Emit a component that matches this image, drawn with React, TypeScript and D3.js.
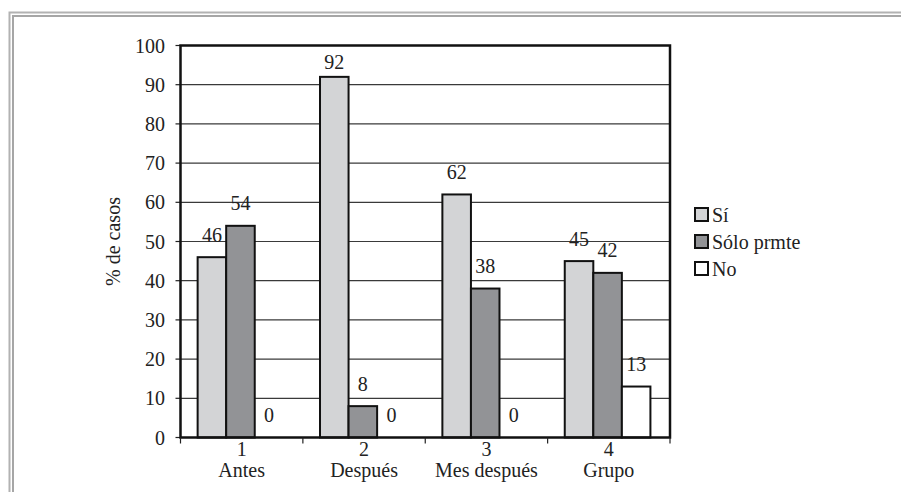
import React from "react";
import * as d3 from "d3";

// Survey responses by moment, percentage of cases
const categories = ["1", "2", "3", "4"];
const categoryNames = ["Antes", "Después", "Mes después", "Grupo"];
const seriesNames = ["Sí", "Sólo prmte", "No"];
const siValues = [46, 92, 62, 45];
const soloValues = [54, 8, 38, 42];
const noValues = [0, 0, 0, 13];
const yTicks = [0, 10, 20, 30, 40, 50, 60, 70, 80, 90, 100];

const seriesValues = [siValues, soloValues, noValues];
const seriesColors = ["#d3d4d6", "#929396", "#ffffff"];

const W = 901;
const H = 492;
const plot = { left: 180.5, right: 670, top: 45.5, bottom: 437.5 };
const FONT = '"Liberation Serif"';
const FS = 20;

const textStyle: React.CSSProperties = { fontFamily: FONT, fontSize: FS };

export default function App() {
  const x = d3
    .scaleBand<string>()
    .domain(categories)
    .range([plot.left, plot.right])
    .padding(0);
  const bw = x.bandwidth();
  const inner = d3
    .scaleBand<string>()
    .domain(seriesNames)
    .range([bw * 0.14, bw * 0.84])
    .padding(0);
  const y = d3.scaleLinear().domain([0, 100]).range([plot.bottom, plot.top]);

  const bars = categories.flatMap((c, ci) =>
    seriesNames.map((s, si) => ({
      c,
      s,
      si,
      v: seriesValues[si][ci],
    }))
  );

  const legendRows = seriesNames.map((s, i) => ({
    s,
    color: seriesColors[i],
    cy: (plot.top + plot.bottom) / 2 + (i - 1) * 27,
  }));

  const boundaries = [...categories.map((c) => x(c)!), plot.right];

  return (
    <svg width={W} height={H} style={{ position: "fixed", left: 0, top: 0, background: "#fff" }}>
      {/* double grey frame */}
      <rect x={9.5} y={12.5} width={W + 20} height={H + 20} fill="none" stroke="#b2b2b2" strokeWidth={2} />
      <rect x={13} y={16} width={W + 20} height={H + 20} fill="none" stroke="#a6a6a6" strokeWidth={2} />

      {/* gridlines */}
      {yTicks.map((t) => (
        <line
          key={"g" + t}
          x1={plot.left}
          x2={plot.right}
          y1={y(t)}
          y2={y(t)}
          stroke="#3a3a3a"
          strokeWidth={1.2}
        />
      ))}

      {/* y axis ticks and labels */}
      {yTicks.map((t) => (
        <g key={"t" + t}>
          <line x1={plot.left - 5} x2={plot.left} y1={y(t)} y2={y(t)} stroke="#222" strokeWidth={1.2} />
          <text x={165} y={y(t)} dy="0.35em" textAnchor="end" fill="#222" style={textStyle}>
            {t}
          </text>
        </g>
      ))}

      <text
        transform={`translate(113, ${(plot.top + plot.bottom) / 2}) rotate(-90)`}
        textAnchor="middle"
        dy="0.35em"
        fill="#222"
        style={textStyle}
      >
        % de casos
      </text>

      {/* bars */}
      {bars.map((b) => (
        <rect
          key={b.c + b.s}
          x={x(b.c)! + inner(b.s)!}
          y={y(b.v)}
          width={inner.bandwidth()}
          height={plot.bottom - y(b.v)}
          fill={seriesColors[b.si]}
          stroke="#111"
          strokeWidth={2}
        />
      ))}

      {/* value labels */}
      {bars.map((b) => (
        <text
          key={"l" + b.c + b.s}
          x={x(b.c)! + inner(b.s)! + inner.bandwidth() / 2}
          y={Math.max(y(b.v) - 15.5, plot.top + 23.5)}
          textAnchor="middle"
          fill="#222"
          style={textStyle}
        >
          {b.v}
        </text>
      ))}

      {/* plot frame */}
      <rect
        x={plot.left}
        y={plot.top}
        width={plot.right - plot.left}
        height={plot.bottom - plot.top}
        fill="none"
        stroke="#111"
        strokeWidth={2.5}
      />

      {/* x axis ticks and category labels */}
      {boundaries.map((bx, i) => (
        <line key={"xt" + i} x1={bx} x2={bx} y1={plot.bottom} y2={plot.bottom + 6} stroke="#222" strokeWidth={1.2} />
      ))}
      {categories.map((c, i) => (
        <g key={"c" + c}>
          <text x={x(c)! + bw / 2} y={456} textAnchor="middle" fill="#222" style={textStyle}>
            {c}
          </text>
          <text x={x(c)! + bw / 2} y={477} textAnchor="middle" fill="#222" style={textStyle}>
            {categoryNames[i]}
          </text>
        </g>
      ))}

      {/* legend */}
      {legendRows.map((r) => (
        <g key={"lg" + r.s}>
          <rect x={695} y={r.cy - 6.5} width={13} height={13} fill={r.color} stroke="#111" strokeWidth={2} />
          <text x={712} y={r.cy} dy="0.35em" fill="#222" style={textStyle}>
            {r.s}
          </text>
        </g>
      ))}
    </svg>
  );
}
